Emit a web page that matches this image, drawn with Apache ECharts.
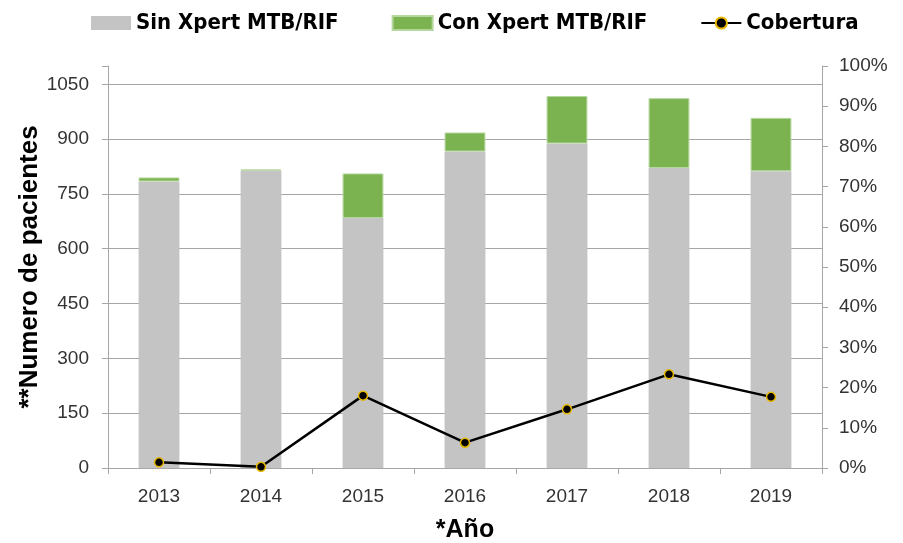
<!DOCTYPE html>
<html>
<head>
    <meta charset="UTF-8">
    <script src="https://cdn.jsdelivr.net/npm/echarts@6/dist/echarts.min.js"></script>
    <style>
        html, body { margin: 0; padding: 0; background: #fff; }
        #main { width: 903px; height: 543px; }
    </style>
</head>
<body>
<div id="main"></div>
<script type="text/javascript">
    // valores
    var years = ['2013', '2014', '2015', '2016', '2017', '2018', '2019'];
    var sinXpert = [784, 814, 684, 866, 888, 821, 812];
    var conXpert = [11, 3, 122, 52, 130, 191, 146];
    var cobertura = [0.014, 0.003, 0.180, 0.063, 0.146, 0.233, 0.177];

    var leftFont = 'Liberation Sans';
    var myChart = echarts.init(document.getElementById('main'));
    var option = {
        animation: false,
        backgroundColor: '#fff',
        legend: {
            top: 7,
            left: 86,
            itemGap: 53,
            itemWidth: 40,
            itemHeight: 14,
            textStyle: {
                fontFamily: 'DejaVu Sans Condensed',
                fontWeight: 'bold',
                fontSize: 22,
                color: '#000'
            },
            data: [
                {name: 'Sin Xpert MTB/RIF', icon: 'rect'},
                {name: 'Con Xpert MTB/RIF', icon: 'rect'},
                {name: 'Cobertura'}
            ]
        },
        grid: {left: 108, right: 81, top: 66, bottom: 75, outerBoundsMode: 'none', containLabel: false},
        xAxis: {
            type: 'category',
            data: years,
            name: '*Año',
            nameLocation: 'middle',
            nameGap: 50,
            nameMoveOverlap: false,
            nameTextStyle: {fontFamily: leftFont, fontWeight: 'bold', fontSize: 25, color: '#000'},
            axisLine: {lineStyle: {color: '#A6A6A6', width: 1}},
            axisTick: {show: true, length: 6, lineStyle: {color: '#A6A6A6'}},
            axisLabel: {fontFamily: leftFont, fontSize: 19, color: '#333', margin: 19}
        },
        yAxis: [
            {
                type: 'value',
                min: 0,
                max: 1100,
                interval: 150,
                name: '**Numero de pacientes',
                nameLocation: 'middle',
                nameGap: 65,
                nameMoveOverlap: false,
                nameTextStyle: {fontFamily: leftFont, fontWeight: 'bold', fontSize: 26, color: '#000'},
                axisLine: {show: true, lineStyle: {color: '#A6A6A6', width: 1}},
                axisTick: {show: true, length: 6, lineStyle: {color: '#A6A6A6'}},
                axisLabel: {
                    fontFamily: leftFont, fontSize: 19, color: '#333', margin: 19,
                    formatter: function (v) { return v > 1050 ? '' : v; }
                },
                splitLine: {show: true, showMaxLine: false, lineStyle: {color: '#A6A6A6', width: 1}}
            },
            {
                type: 'value',
                min: 0,
                max: 1,
                interval: 0.1,
                position: 'right',
                axisLine: {show: true, lineStyle: {color: '#A6A6A6', width: 1}},
                axisTick: {show: true, length: 6, lineStyle: {color: '#A6A6A6'}},
                axisLabel: {
                    fontFamily: leftFont, fontSize: 19, color: '#333', margin: 17,
                    formatter: function (v) { return Math.round(v * 100) + '%'; }
                },
                splitLine: {show: false}
            }
        ],
        series: [
            {
                name: 'Sin Xpert MTB/RIF',
                type: 'bar',
                stack: 'total',
                barWidth: '40%',
                itemStyle: {color: '#C4C4C4'},
                data: sinXpert
            },
            {
                name: 'Con Xpert MTB/RIF',
                type: 'bar',
                stack: 'total',
                barWidth: '40%',
                itemStyle: {color: '#7BB351', borderColor: '#B5D69C', borderWidth: 1},
                data: conXpert
            },
            {
                name: 'Cobertura',
                type: 'line',
                yAxisIndex: 1,
                symbol: 'circle',
                symbolSize: 9,
                lineStyle: {color: '#000', width: 2.5},
                itemStyle: {color: '#000', borderColor: '#E6B800', borderWidth: 1.5},
                data: cobertura
            }
        ]
    };
    myChart.setOption(option);
</script>
</body>
</html>
